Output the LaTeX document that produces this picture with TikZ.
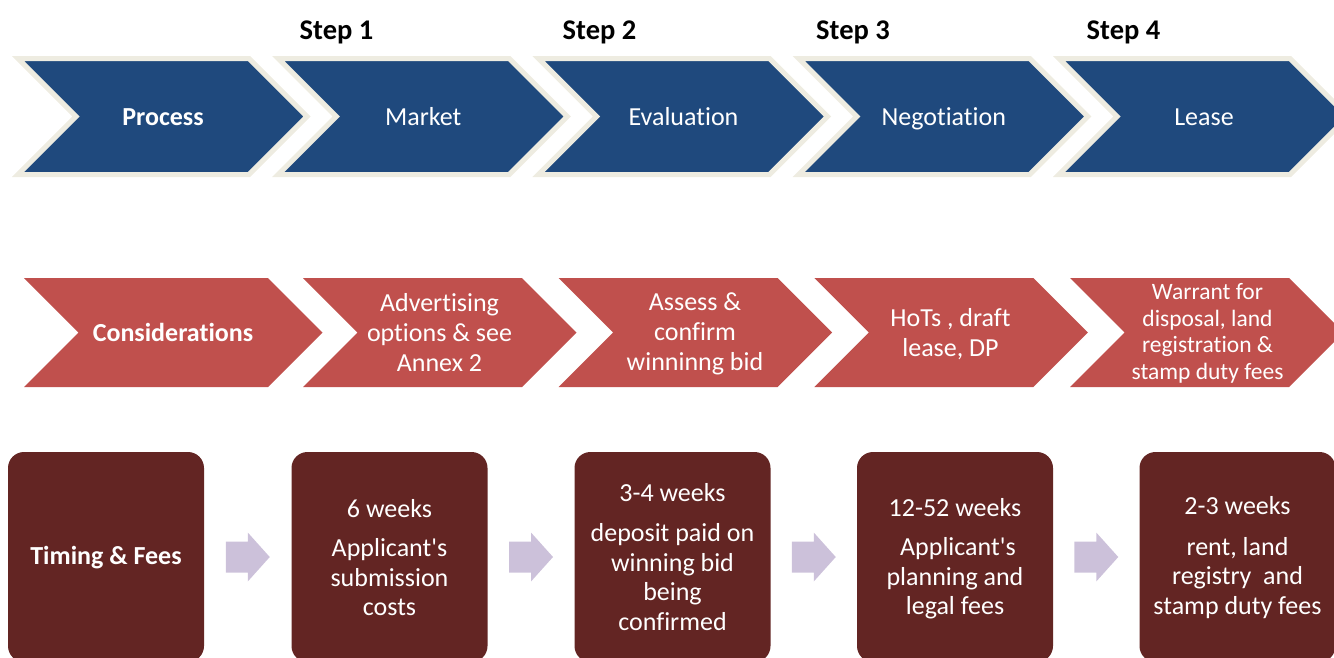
\documentclass[tikz,border=0pt]{standalone}
\usepackage{fontspec}
\setmainfont{Carlito}[Ligatures={NoCommon,TeXOff}]
\usetikzlibrary{calc}

\definecolor{procblue}{HTML}{1F497D}
\definecolor{procedge}{HTML}{EEECE1}
\definecolor{considred}{HTML}{C0504D}
\definecolor{timebrown}{HTML}{632523}
\definecolor{arrowlilac}{HTML}{CCC1DA}

\tikzset{
  bluechev/.style={fill=procblue, draw=procedge, line width=5pt, miter limit=10},
  redchev/.style={fill=considred},
  chevtext/.style={text=white, align=center, inner sep=0pt,
    font=\fontsize{26pt}{30pt}\selectfont},
  smalltext/.style={chevtext, font=\fontsize{23.5pt}{26.5pt}\selectfont},
  steplabel/.style={anchor=base, inner sep=0pt,
    font=\bfseries\fontsize{28.5pt}{32pt}\selectfont},
  timebox/.style={rectangle, rounded corners=16pt, fill=timebrown,
    minimum width=196pt, minimum height=210pt, inner sep=0pt},
  boxtext/.style={text=white, align=center, inner sep=0pt,
    font=\fontsize{26pt}{29.5pt}\selectfont},
  blockarrow/.style={fill=arrowlilac}
}

\begin{document}
\begin{tikzpicture}[x=1pt, y=-1pt]
\useasboundingbox (0,0) rectangle (1334,657);
\clip (0,0) rectangle (1334,657);

% step labels
\node[steplabel] (s1) at (336.5,39) {Step 1};
\node[steplabel] (s2) at (599.5,39) {Step 2};
\node[steplabel] (s3) at (853,39) {Step 3};
\node[steplabel] (s4) at (1123.5,39) {Step 4};

% process chevrons
\foreach \i in {0,...,4} {
  \pgfmathsetmacro\xl{18+260.25*\i}
  \path[bluechev] (\xl,58.5) -- ++(231,0) -- ++(58,58) -- ++(-58,58)
        -- ++(-231,0) -- ++(58,-58) -- cycle;
}
\node[chevtext] (p0) at (163,117) {\bfseries Process};
\node[chevtext] (p1) at (423.25,117) {Market};
\node[chevtext] (p2) at (683.5,117) {Evaluation};
\node[chevtext, text depth=0pt] (p3) at (943.75,117) {Negotiation};
\node[chevtext] (p4) at (1204,117) {Lease};

% considerations chevrons
\path[redchev] (24,278) -- ++(244,0) -- ++(54.5,54.5) -- ++(-54.5,54.5)
      -- ++(-244,0) -- ++(54.5,-54.5) -- cycle;
\foreach \i in {0,...,3} {
  \pgfmathsetmacro\xl{303+255.7*\i}
  \path[redchev] (\xl,278) -- ++(219,0) -- ++(54.5,54.5) -- ++(-54.5,54.5)
        -- ++(-219,0) -- ++(54.5,-54.5) -- cycle;
}
\node[chevtext] (c1) at (173,332.5) {\bfseries Considerations};
\node[chevtext] (c2) at (439.5,332.5) {Advertising\\options \& see\\Annex 2};
\node[chevtext] (c3) at (695,333.5) {Assess \&\\confirm\\winninng bid};
\node[chevtext] (c4) at (950.5,334.5) {HoTs , draft\\lease, DP};
\node[smalltext] (c5) at (1207.5,333.5) {Warrant for\\disposal, land\\registration \&\\stamp duty fees};

% timing and fees boxes
\foreach \n/\x in {1/106, 2/389.5, 3/672.5, 4/955, 5/1237.5}
  \node[timebox] (t\n) at (\x,557) {};

\node[boxtext] (l1) at ($(t1)+(0,1)$) {\bfseries Timing \& Fees};
\node[boxtext] (l2) at ($(t2)+(0,0.5)$) {6 weeks\\[10pt]Applicant's\\submission\\costs};
\node[boxtext] (l3) at (t3) {3-4 weeks\\[11pt]deposit paid on\\winning bid\\being\\confirmed};
\node[boxtext] (l4) at ($(t4)+(0,1.5)$) {12-52 weeks\\[10pt]\ Applicant's\\planning and\\legal fees};
\node[boxtext] (l5) at ($(t5)+(0,0.5)$) {2-3 weeks\\[11pt]rent, land\\registry\ \ and\\stamp duty fees};

% block arrows between boxes
\foreach \a/\b in {t1/t2, t2/t3, t3/t4, t4/t5} {
  \path[blockarrow] ($(\a.east)!0.5!(\b.west)$) ++(-22,-15.5) -- ++(22,0)
        -- ++(0,-9) -- ++(22,24.5) -- ++(-22,24.5) -- ++(0,-9)
        -- ++(-22,0) -- cycle;
}
\end{tikzpicture}
\end{document}
